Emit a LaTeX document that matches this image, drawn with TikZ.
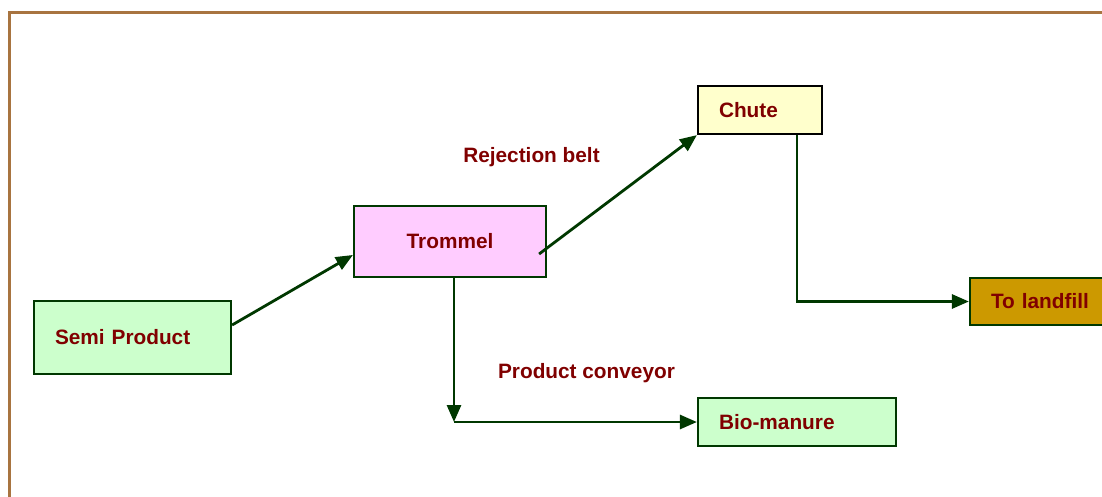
\documentclass[tikz,border=0pt]{standalone}
\usepackage{fontspec}
\setmainfont{Liberation Sans}
\usetikzlibrary{arrows.meta,calc}
\definecolor{edgegreen}{RGB}{0,56,0}
\definecolor{txtred}{RGB}{128,0,0}
\definecolor{framebrown}{RGB}{168,116,64}
\definecolor{lgreen}{RGB}{204,255,204}
\definecolor{lpink}{RGB}{255,204,255}
\definecolor{lyellow}{RGB}{255,255,204}
\definecolor{gold}{RGB}{204,153,0}
\tikzset{
  box/.style={draw=edgegreen, line width=2.2pt, inner ysep=0pt, text=txtred,
    font=\fontsize{20.8}{24}\selectfont\bfseries},
  lbox/.style={box, inner xsep=21pt, align=left},
  lbl/.style={text=txtred, font=\fontsize{20.8}{24}\selectfont\bfseries, inner sep=0pt},
  conn/.style={draw=edgegreen, line width=2.8pt, -{Triangle[length=17pt,width=14pt]}}
}
\begin{document}
\begin{tikzpicture}[x=1pt,y=-1pt]
\useasboundingbox (0,0) rectangle (1102,496);
\draw[framebrown, line width=3pt] (9,497) -- (9,12.5) -- (1103,12.5);

\node[lbox, fill=lgreen, text width=155pt, minimum height=73pt] (semi) at (132.5,337.5) {Semi Product};
\node[box, fill=lpink, minimum width=192pt, minimum height=71pt] (trommel) at (450,241.5) {Trommel};
\node[lbox, fill=lyellow, draw=black, text width=82pt, minimum height=48pt] (chute) at (760,110) {Chute};
\node[lbox, fill=gold, text width=108pt, minimum height=47pt] (landfill) at (1045,301.5) {To landfill};
\node[lbox, fill=lgreen, text width=156pt, minimum height=48pt] (bio) at (797,422) {Bio-manure};

\node[lbl] (rej) at (531.5,157) {Rejection belt};
\node[lbl] (prod) at (586.5,373) {Product conveyor};

\draw[conn] ([yshift=12.5pt]semi.east) -- ([yshift=-13.5pt]trommel.west);
\draw[conn] ([xshift=-8pt,yshift=-12.5pt]trommel.east) -- (chute.south west);
\draw[conn] ([xshift=37pt]chute.south) |- (landfill.west);
\coordinate (pc) at ([xshift=4pt]trommel.south |- bio.west);
\draw[conn] ([xshift=4pt]trommel.south) -- (pc);
\draw[conn] (pc) -- (bio.west);
\end{tikzpicture}
\end{document}
